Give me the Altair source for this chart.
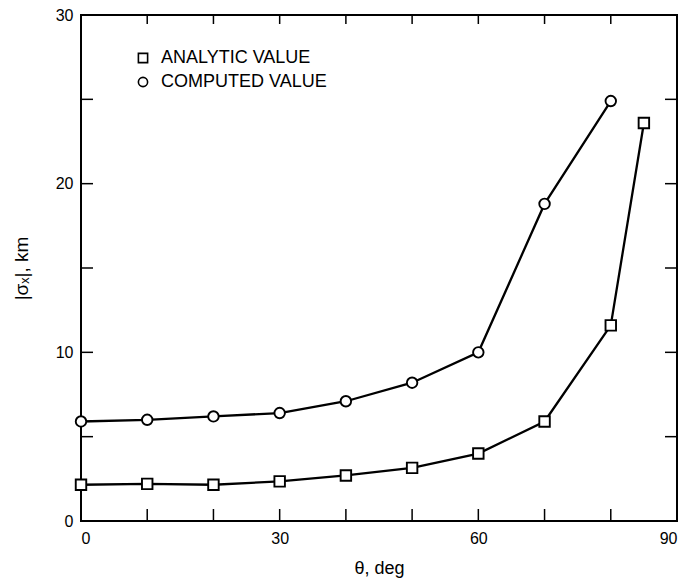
import altair as alt
import pandas as pd

# ---- data ----
series_names = ["ANALYTIC VALUE", "COMPUTED VALUE"]
series_shapes = ["square", "circle"]
theta_analytic = [0, 10, 20, 30, 40, 50, 60, 70, 80, 85]
sigma_analytic = [2.15, 2.2, 2.15, 2.35, 2.7, 3.15, 4.0, 5.9, 11.6, 23.6]
theta_computed = [0, 10, 20, 30, 40, 50, 60, 70, 80]
sigma_computed = [5.9, 6.0, 6.2, 6.4, 7.1, 8.2, 10.0, 18.8, 24.9]

x_label_values = [0, 30, 60, 90]
y_label_values = [0, 10, 20, 30]
x_tick_values = [10, 20, 30, 40, 50, 60, 70, 80]
y_tick_values = [5, 10, 15, 20, 25]

W, H = 596, 506
FONT = "Liberation Sans"

df = pd.concat([
    pd.DataFrame({"theta": theta_analytic, "sigma": sigma_analytic, "series": series_names[0]}),
    pd.DataFrame({"theta": theta_computed, "sigma": sigma_computed, "series": series_names[1]}),
], ignore_index=True)
xt = pd.DataFrame({"theta": x_tick_values})
yt = pd.DataFrame({"sigma": y_tick_values})

xscale = alt.Scale(domain=[0, 90], nice=False, zero=False)
yscale = alt.Scale(domain=[0, 30], nice=False, zero=False)

xaxis = alt.Axis(values=x_label_values, title="θ, deg", ticks=False, domain=False, grid=False,
                 labelPadding=9, titlePadding=13, labelFontSize=16, titleFontSize=18,
                 titleFontWeight="normal", labelFont=FONT, titleFont=FONT,
                 labelColor="black", titleColor="black")
yaxis = alt.Axis(values=y_label_values, title="|σₓ|, km", ticks=False, domain=False, grid=False,
                 labelPadding=8, titlePadding=24, labelFontSize=16, titleFontSize=19,
                 titleFontWeight="normal", labelFont=FONT, titleFont=FONT,
                 labelColor="black", titleColor="black")

lines = alt.Chart(df).mark_line(color="black", strokeWidth=2.3).encode(
    x=alt.X("theta:Q", scale=xscale, axis=xaxis),
    y=alt.Y("sigma:Q", scale=yscale, axis=yaxis),
    detail="series:N",
)

points = alt.Chart(df).mark_point(filled=True, fill="white", stroke="black",
                                  strokeWidth=1.9, size=110, opacity=1).encode(
    x=alt.X("theta:Q", scale=xscale),
    y=alt.Y("sigma:Q", scale=yscale),
    shape=alt.Shape("series:N",
                    scale=alt.Scale(domain=series_names, range=series_shapes),
                    legend=None),
)

tick_mark = dict(color="black", strokeWidth=1.5)
left_ticks = alt.Chart(yt).mark_rule(**tick_mark).encode(
    y=alt.Y("sigma:Q", scale=yscale), x=alt.value(0), x2=alt.value(12))
right_ticks = alt.Chart(yt).mark_rule(**tick_mark).encode(
    y=alt.Y("sigma:Q", scale=yscale), x=alt.value(W - 12), x2=alt.value(W))
bottom_ticks = alt.Chart(xt).mark_rule(**tick_mark).encode(
    x=alt.X("theta:Q", scale=xscale), y=alt.value(H - 12), y2=alt.value(H))
top_ticks = alt.Chart(xt).mark_rule(**tick_mark).encode(
    x=alt.X("theta:Q", scale=xscale), y=alt.value(0), y2=alt.value(9))

# ---- legend (drawn as a key box in the upper left) ----
legend_layers = []
for i, (name, shp) in enumerate(zip(series_names, series_shapes)):
    row_y = 43 + 24 * i
    src = alt.Data(values=[{"label": name}])
    legend_layers.append(
        alt.Chart(src).mark_point(shape=shp, filled=True, fill="white", stroke="black",
                                  strokeWidth=1.6, size=85, opacity=1).encode(
            x=alt.value(62), y=alt.value(row_y)))
    legend_layers.append(
        alt.Chart(src).mark_text(align="left", baseline="middle", font=FONT, fontSize=18,
                                 color="black").encode(
            x=alt.value(80), y=alt.value(row_y), text="label:N"))

chart = alt.layer(lines, left_ticks, right_ticks, bottom_ticks, top_ticks, points,
                  *legend_layers).properties(
    width=W, height=H,
    autosize=alt.AutoSizeParams(type="none"),
    padding={"left": 73, "top": 7, "right": 9, "bottom": 59},
    background="white",
).configure_view(stroke="black", strokeWidth=2)

chart.save("out.html", embed_options={"renderer": "svg", "actions": False})
